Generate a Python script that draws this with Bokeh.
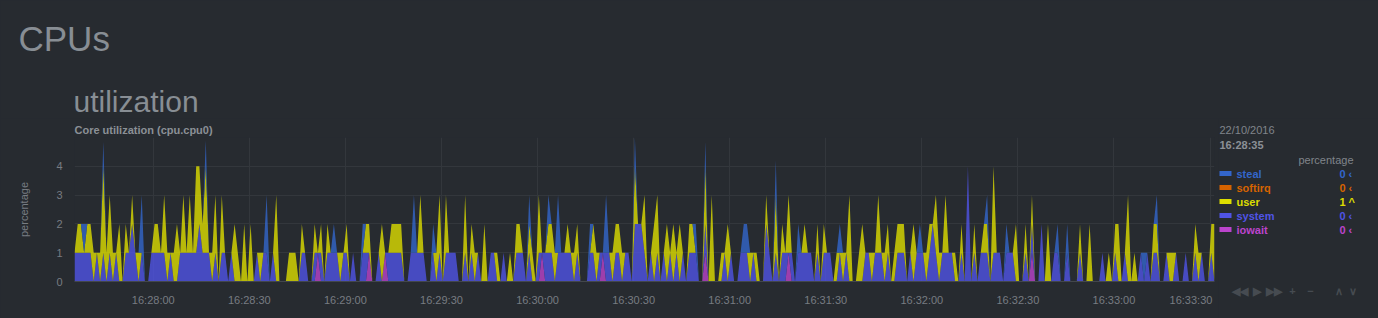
import pandas as pd
from bokeh.plotting import figure
from bokeh.layouts import column, row
from bokeh.models import Range1d, FixedTicker, ColumnDataSource
from bokeh.core.properties import value
from bokeh.embed import file_html
from bokeh.resources import INLINE

# ---------------- data (one sample per second) ----------------
start_time = "2016-10-22 16:27:35.400"

system = [
    1,1,1,1,1,1,0,1,0,1,  0,1,0,1,0,0,1,1,2,1,  0,1,0,0,1,1,1,1,1,0,  1,0,0,1,1,1,1,1,1,2,
    1,1,1,0,1,0,1,1,0,1,  0,0,0,0,0,0,0,1,0,1,  1,0,1,0,0,0,0,0,0,0,  0,1,1,0,0,1,0,1,0,1,
    1,1,1,0,1,1,0,1,0,0,  1,1,0,0,0,1,0,0,1,1,  1,1,1,0,0,1,1,1,1,1,  0,0,1,0,1,0,1,1,1,1,
    0,0,1,0,1,0,1,0,0,0,  1,1,0,0,1,0,0,0,1,1,  1,0,1,0,0,1,0,1,1,1,  0,1,1,1,1,1,0,1,0,0,
    0,1,1,0,1,0,1,1,0,1,  1,0,1,1,0,2,2,2,1,0,  1,0,1,0,1,0,1,0,1,0,  1,0,1,1,1,0,0,1,0,0,
    0,0,0,1,0,1,0,0,1,1,  1,0,1,0,0,0,2,1,0,1,  0,1,1,0,1,0,1,1,1,1,  1,0,1,0,1,1,1,0,0,1,
    0,1,0,0,0,0,0,1,1,0,  1,1,1,0,1,0,0,1,1,1,  0,1,0,1,1,1,0,1,2,1,  0,1,1,1,1,0,0,1,0,4,
    0,1,0,1,1,1,0,1,1,1,  0,1,1,1,0,0,0,1,0,1,  0,0,2,0,0,0,1,1,0,0,  1,0,0,0,1,0,0,0,0,0,
    0,1,0,0,0,1,0,0,1,0,  0,0,0,1,0,1,0,1,1,0,  0,1,0,0,1,0,0,1,0,0,  1,0,1,0,0,1,0,
]

user = [
    0,1,1,0,1,1,1,0,1,3,  1,2,1,0,2,0,1,0,1,0,  1,0,0,0,0,1,1,0,2,1,  0,1,2,0,2,0,2,0,3,2,
    1,3,0,1,2,0,2,0,0,0,  2,1,0,2,0,2,0,0,1,0,  0,0,0,3,0,0,0,1,1,1,  0,1,0,0,0,1,0,1,0,1,
    0,0,0,1,0,1,0,0,0,0,  0,1,1,0,0,0,2,0,0,1,  1,1,1,0,0,0,0,0,2,0,  0,0,0,1,2,0,2,0,0,0,
    0,0,2,0,1,1,0,0,2,0,  0,0,1,0,0,0,1,0,1,1,  0,0,1,1,0,2,0,0,1,1,  1,0,0,0,1,0,1,1,0,0,
    0,0,1,1,0,0,0,0,1,1,  1,1,0,0,0,2,0,0,2,0,  0,2,2,0,0,2,0,2,0,2,  0,0,1,1,0,0,0,2,0,3,
    0,0,1,0,2,0,0,0,0,0,  0,1,0,1,0,0,1,0,0,2,  0,1,0,2,0,0,0,0,1,0,  0,0,1,0,1,0,0,0,1,0,
    1,0,3,0,0,1,2,0,0,1,  0,2,0,1,1,0,1,1,1,1,  0,0,2,0,0,0,1,1,0,2,  1,0,2,0,0,1,0,1,0,0,
    0,1,0,0,1,1,0,3,0,0,  0,0,0,0,2,0,0,1,0,1,  0,0,0,0,2,0,0,0,0,0,  0,0,0,0,1,0,0,2,0,0,
    0,0,0,1,0,1,2,0,0,3,  0,1,0,0,0,0,0,1,1,0,  0,0,1,1,0,0,0,0,0,0,  1,1,0,0,0,1,2,
]

steal = [
    0,0,0,1,0,0,0,0,0,0.85,  0,0,0,0,0,0,0,0,0,0,  0,2,0,0,0,0,0,0,0,0,  0,0,0,0,0,0,0,0,0,0,
    0,0.9,0,0,0,0,0,0,0,0,  0,0,0,0,0,0,0,0,0,0,  2,0,0,0,0,0,0,0,0,0,  0,0,0,0,0,0,0,0,0,0,
    0,1,0,0,0,0,0,0,0,0,  1,0,0,0,0,0,0,0,0,0,  0,0,0,0,0,0,2,0,0,0,  0,0,1,0,0,0,0,0,0,0,
    0,0,0,0,0,0,0,0,0,0,  0,0,0,0,0,0,0,0,0,0,  0,0,1,0,0,0,0,0,1,0,  0,2,0,0,0,0,0,0,0,0,
    0,1,0,0,0,0,2,0,0,0,  0,0,0,0,0,1,0,0,0,0,  0,0,0,0,0,0,0,0,0,0,  0,0,0,0,1,0,0,0.85,0,0,
    0,0,0,0,0,0,0,0,0,1,  1,0,0,0,0,0,0,0,0,1.2,  0,0,0,0,0,0,1,0,0,0,  0,0,0,0,0,0,0,0,0,1,
    0,0,0,0,0,0,0,0,0,0,  0,0,0,0,0,0,0,0,0,0,  0,0,0,0,1,0,0,0,0,0,  0,0,0,0,0,0,0,0,0,0,
    0,0,0,0,0,1,0,0,0,0,  0,1,0,0,0,0,0,0,0,0,  0,0,0,0,0,0,0,1,0,0,  1,0,0,0,0,0,0,0,0,0,
    0,0,0,0,0,0,0,0,0,0,  0,0,0,0,1,0,0,0,1,0,  0,0,0,0,0,0,0,0,0,0,  0,0,0,0,0,0,0,
]

iowait = [
    0,0,0,0,0,0,0,0,0,0,  0,0,0,0,0,0,0,0,0,0,  0,0,0,0,0,0,0,0,0,0,  0,0,0,0,0,0,0,0,0,0,
    0,0,0,0,0,0,0,0,0,0,  0,0,0,0,0,0,0,0,0,0,  0,0,0,0,0,0,0,0,0,0,  0,0,0,0,0,0,1,0,0,0,
    0,0,0,0,0,0,0,0,0,0,  0,0,1,0,0,0,0,1,0,0,  0,0,0,0,0,0,0,0,0,0,  0,0,0,0,0,0,0,0,0,0,
    0,0,0,0,0,0,0,0,0,0,  0,0,0,0,0,0,0,0,0,0,  0,0,0,0,0,0,1,0,0,0,  0,0,0,0,0,0,0,0,0,0,
    0,0,0,0,0,1,0,0,0,0,  0,0,0,0,0,0,0,0,0,0,  0,0,0,0,0,0,0,0,0,0,  0,0,0,0,0,0,0,1,0,0,
    0,0,0,0,0,0,0,0,0,0,  0,0,0,0,0,0,0,0,0,0,  0,0,0,1,0,0,0,0,0,0,  0,0,0,0,0,0,0,0,0,0,
    0,0,0,0,0,0,0,0,0,0,  0,0,0,0,0,0,0,0,0,0,  0,0,0,0,0,0,0,0,0,0,  0,0,0,0,0,0,0,0,0,0,
    0,0,0,0,0,0,0,0,0,0,  0,0,0,0,0,0,0,0,0,1,  0,0,0,0,0,0,0,0,0,0,  0,0,0,0,0,0,0,0,0,0,
    0,0,0,0,0,0,0,0,0,0,  0,0,0,0,0,0,0,0,0,0,  0,0,0,0,0,0,0,0,0,0,  0,0,0,0,0,0,0,
]

x_tick_labels = ["16:28:00", "16:28:30", "16:29:00", "16:29:30", "16:30:00", "16:30:30",
                 "16:31:00", "16:31:30", "16:32:00", "16:32:30", "16:33:00", "16:33:30"]
y_ticks = [0, 1, 2, 3, 4]

section_title = "CPUs"
family_title = "utilization"
chart_title = "Core utilization (cpu.cpu0)"
units = "percentage"
legend_date = "22/10/2016"
legend_time = "16:28:35"
legend_names = ["steal", "softirq", "user", "system", "iowait"]
legend_values = ["0", "0", "1", "0", "0"]
legend_arrows = ["\u2039", "\u2039", "^", "\u2039", "\u2039"]
legend_colors = ["#3366CC", "#D66300", "#DDDD00", "#5054e6", "#BB44CC"]
controls = ["\u25c0\u25c0", "\u25b6", "\u25b6\u25b6", "+", "\u2212", "\u2227", "\u2228"]

# ---------------- styling ----------------
BG = "#272b30"
FONT = "Liberation Sans"
W, H = 1378, 318
HEAD_H = 118          # header strip height
FRAME_TOP = 137       # top of the chart frame (page pixels)
CHART_W = 1218        # chart canvas width (frame spans 74..1214)
area_colors = {"iowait": "#BB44CC", "system": "#5054e6", "user": "#DDDD00", "steal": "#3366CC"}
bg_style = {"background-color": BG}


def blank(width, height, x0, x1, y0, y1):
    f = figure(width=width, height=height, output_backend="svg", toolbar_location=None,
               x_range=Range1d(x0, x1), y_range=Range1d(y1, y0),
               x_axis_location=None, y_axis_location=None,
               min_border=0, min_border_left=0, min_border_right=0, min_border_top=0, min_border_bottom=0,
               background_fill_color=BG, border_fill_color=BG, outline_line_color=None,
               border_line_color=None, frame_align=False, styles=bg_style)
    f.grid.visible = False
    return f


def txt(f, x, y, text, size, color, style="normal", align="left", baseline="middle"):
    f.text(x=[x], y=[y], text=[text], text_font=value(FONT), text_font_size=size,
           text_color=color, text_font_style=style, text_align=align, text_baseline=baseline)


# ---- header strip: section and family titles ----
head = blank(W, HEAD_H, 0, W, 0, HEAD_H)
txt(head, 18, 38, section_title, "35px", "#888e94", baseline="alphabetic")
txt(head, 73, 101, family_title, "30px", "#888e94", baseline="alphabetic")

# ---- main chart ----
t0 = pd.Timestamp(start_time)
times = [t0 + pd.Timedelta(seconds=i) for i in range(len(system))]
source = ColumnDataSource(dict(t=times, iowait=iowait, system=system, user=user, steal=steal))
tick_times = [pd.Timestamp("2016-10-22 " + s).value / 1e6 for s in x_tick_labels]

p = figure(width=CHART_W, height=H - HEAD_H, x_axis_type="datetime", output_backend="svg",
           toolbar_location=None, x_range=Range1d(times[0], times[-1]), y_range=Range1d(0, 5.0),
           title=chart_title,
           min_border_left=74, min_border_right=CHART_W - 1214,
           min_border_top=FRAME_TOP - HEAD_H, min_border_bottom=37,
           background_fill_color=BG, border_fill_color=BG, outline_line_color=None,
           border_line_color=None, frame_align=False, styles=bg_style)
p.title.align = "left"
p.title.offset = 0
p.title.standoff = 4
p.title.text_font = FONT
p.title.text_font_size = "11px"
p.title.text_font_style = "bold"
p.title.text_color = "#8b9096"

stack = ["iowait", "system", "user", "steal"]
p.varea_stack(stackers=stack, x="t", color=[area_colors[s] for s in stack],
              fill_alpha=0.8, source=source)

p.xaxis.ticker = FixedTicker(ticks=tick_times)
overrides = {t: lab for t, lab in zip(tick_times, x_tick_labels)}
# the last label is kept inside the chart, as in the original (a figure space shifts it left)
overrides[tick_times[-1]] = x_tick_labels[-1] + "\u2007"
p.xaxis.major_label_overrides = overrides
p.yaxis.ticker = FixedTicker(ticks=y_ticks)

for ax in (p.xaxis[0], p.yaxis[0]):
    ax.major_tick_line_color = None
    ax.minor_tick_line_color = None
    ax.major_label_text_font = FONT
    ax.major_label_text_font_size = "11px"
    ax.major_label_text_color = "#777c82"
    ax.major_label_standoff = 6
p.xaxis.axis_line_color = "#43474c"
p.yaxis.axis_line_color = None
p.yaxis.axis_label = units
p.yaxis.axis_label_text_font = FONT
p.yaxis.axis_label_text_font_size = "11px"
p.yaxis.axis_label_text_font_style = "normal"
p.yaxis.axis_label_text_color = "#777c82"
p.yaxis.axis_label_standoff = 23
p.xgrid.grid_line_color = "#33373c"
p.ygrid.grid_line_color = "#33373c"

# ---- legend panel (right) ----
leg = blank(W - CHART_W, H - HEAD_H, CHART_W, W, HEAD_H, H)
txt(leg, 1219, 129, legend_date, "11px", "#80858b")
txt(leg, 1219, 144, legend_time, "11px", "#8b9096", style="bold")
txt(leg, 1353, 159, units, "11px", "#80858b", align="right")
ys = [173 + 14 * k for k in range(len(legend_names))]
leg.quad(left=[1219] * len(ys), right=[1231] * len(ys),
         top=[y - 2.5 for y in ys], bottom=[y + 2.5 for y in ys],
         color=legend_colors, line_color=None)
for name, val, arr, col, y in zip(legend_names, legend_values, legend_arrows, legend_colors, ys):
    txt(leg, 1236, y, name, "11px", col, style="bold")
    txt(leg, 1345, y, val, "11px", col, style="bold", align="right")
    txt(leg, 1348, y, arr, "11px", col, style="bold")
for c, cx in zip(controls, [1239, 1256, 1273, 1292, 1310, 1338, 1352]):
    txt(leg, cx, 290, c, "11px", "#464b51", style="bold", align="center")

layout = column(head, row(p, leg, spacing=0, styles=bg_style), spacing=0, styles=bg_style)
open("out.html", "w").write(file_html(layout, INLINE))
